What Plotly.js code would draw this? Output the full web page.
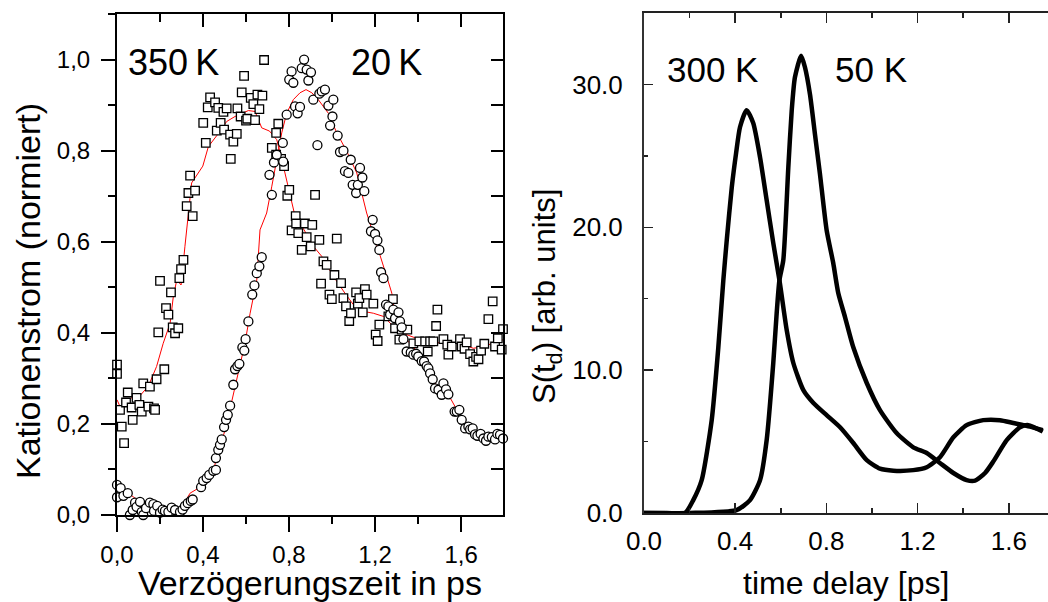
<!DOCTYPE html>
<html>
<head>
<meta charset="utf-8">
<script src="https://cdn.plot.ly/plotly-3.0.1.min.js"></script>
<style>html,body{margin:0;padding:0;background:#fff;}#chart{width:1048px;height:602px;}</style>
</head>
<body>
<div id="chart"></div>
<script>
// ---- Left panel: Kationenstrom (normiert) vs Verzögerungszeit ----
const sq350_x = [0.0,0.0,0.014,0.022,0.033,0.042,0.05,0.068,0.073,0.091,0.104,0.115,0.122,0.146,0.153,0.172,0.177,0.184,0.192,0.2,0.22,0.228,0.239,0.251,0.259,0.27,0.285,0.29,0.298,0.309,0.324,0.332,0.34,0.352,0.363,0.401,0.413,0.422,0.433,0.456,0.464,0.471,0.482,0.495,0.498,0.51,0.526,0.529,0.541,0.557,0.56,0.575,0.58,0.591,0.6,0.606,0.622,0.634,0.642,0.653,0.662,0.676,0.684,0.72,0.74,0.74,0.75,0.763,0.777,0.792,0.801,0.812,0.831,0.833,0.843,0.859,0.874,0.882,0.901,0.908,0.921,0.941,0.949,0.96,0.975,0.988,0.999,1.011,1.022,1.042,1.053,1.065,1.08,1.088,1.112,1.12,1.127,1.143,1.153,1.161,1.192,1.203,1.212,1.22,1.262,1.283,1.293,1.313,1.324,1.35,1.378,1.406,1.433,1.445,1.456,1.471,1.484,1.49,1.518,1.536,1.541,1.557,1.595,1.603,1.616,1.626,1.642,1.657,1.67,1.681,1.693,1.708,1.727,1.747,1.758,1.771,1.789,1.795];
const sq350_y = [0.33,0.31,0.231,0.194,0.158,0.247,0.269,0.236,0.209,0.257,0.242,0.227,0.289,0.238,0.282,0.234,0.231,0.298,0.401,0.514,0.32,0.454,0.44,0.489,0.412,0.399,0.41,0.52,0.54,0.56,0.678,0.707,0.745,0.656,0.712,0.861,0.817,0.895,0.917,0.906,0.844,0.894,0.861,0.885,0.846,0.893,0.835,0.782,0.82,0.837,0.893,0.875,0.928,0.964,0.866,0.87,0.916,0.902,0.867,0.923,0.891,0.921,0.999,0.806,0.839,0.791,0.859,0.782,0.766,0.701,0.714,0.625,0.656,0.64,0.619,0.582,0.64,0.61,0.59,0.637,0.703,0.604,0.508,0.557,0.549,0.484,0.474,0.527,0.607,0.509,0.476,0.458,0.426,0.443,0.489,0.464,0.476,0.445,0.496,0.484,0.464,0.396,0.382,0.418,0.436,0.474,0.41,0.385,0.407,0.407,0.377,0.381,0.381,0.359,0.381,0.381,0.415,0.451,0.386,0.374,0.352,0.37,0.386,0.37,0.365,0.379,0.353,0.337,0.347,0.342,0.361,0.376,0.43,0.469,0.37,0.388,0.363,0.408];

const ci20_x = [0.0,0.0,0.017,0.03,0.05,0.06,0.073,0.084,0.091,0.107,0.115,0.122,0.135,0.153,0.169,0.172,0.187,0.2,0.212,0.223,0.239,0.254,0.27,0.293,0.305,0.316,0.329,0.343,0.352,0.391,0.401,0.417,0.429,0.448,0.46,0.46,0.471,0.479,0.487,0.498,0.507,0.515,0.526,0.541,0.549,0.56,0.569,0.583,0.592,0.598,0.611,0.629,0.639,0.65,0.662,0.673,0.709,0.72,0.73,0.743,0.771,0.773,0.789,0.801,0.812,0.82,0.828,0.84,0.851,0.859,0.87,0.882,0.89,0.902,0.913,0.932,0.941,0.952,0.967,0.983,0.991,1.002,1.006,1.026,1.037,1.053,1.06,1.076,1.087,1.096,1.112,1.12,1.13,1.141,1.15,1.181,1.189,1.2,1.211,1.22,1.228,1.239,1.251,1.262,1.27,1.285,1.293,1.309,1.316,1.324,1.332,1.347,1.366,1.378,1.391,1.401,1.417,1.428,1.44,1.448,1.456,1.468,1.479,1.495,1.51,1.518,1.53,1.541,1.57,1.58,1.592,1.603,1.619,1.634,1.642,1.654,1.665,1.676,1.691,1.704,1.716,1.727,1.743,1.758,1.769,1.781,1.795];
const ci20_y = [0.066,0.039,0.059,0.042,0.048,0.0,0.011,0.027,0.018,0.029,0.007,0.0,0.015,0.027,0.024,0.009,0.02,0.005,0.012,0.009,0.007,0.016,0.011,0.007,0.012,0.02,0.026,0.031,0.034,0.061,0.075,0.081,0.088,0.097,0.099,0.125,0.143,0.154,0.166,0.193,0.209,0.22,0.24,0.286,0.32,0.327,0.332,0.368,0.361,0.386,0.425,0.484,0.504,0.531,0.546,0.566,0.747,0.703,0.774,0.791,0.817,0.776,0.879,0.956,0.974,0.949,0.897,0.882,0.896,0.981,1.0,0.978,0.954,0.972,0.912,0.812,0.925,0.93,0.934,0.899,0.855,0.875,0.912,0.833,0.797,0.8,0.755,0.751,0.78,0.725,0.707,0.725,0.762,0.741,0.711,0.623,0.648,0.617,0.603,0.582,0.533,0.52,0.462,0.458,0.44,0.451,0.432,0.445,0.425,0.412,0.386,0.359,0.357,0.352,0.354,0.348,0.338,0.337,0.327,0.322,0.311,0.298,0.278,0.275,0.264,0.289,0.276,0.265,0.227,0.227,0.231,0.209,0.19,0.194,0.188,0.19,0.177,0.174,0.178,0.168,0.163,0.172,0.171,0.166,0.178,0.176,0.168];

const fit350_x = [0.0,0.02,0.05,0.08,0.107,0.146,0.184,0.215,0.247,0.262,0.278,0.298,0.316,0.347,0.399,0.425,0.464,0.51,0.549,0.611,0.642,0.673,0.709,0.743,0.781,0.801,0.828,0.87,0.913,0.952,1.006,1.06,1.099,1.146,1.192,1.239,1.286,1.347,1.409,1.471,1.533,1.595,1.657,1.704,1.75,1.797];
const fit350_y = [0.253,0.232,0.25,0.262,0.262,0.283,0.326,0.377,0.421,0.48,0.516,0.505,0.59,0.729,0.766,0.809,0.833,0.864,0.875,0.888,0.886,0.85,0.843,0.824,0.751,0.711,0.656,0.626,0.59,0.568,0.524,0.487,0.462,0.447,0.443,0.436,0.414,0.396,0.385,0.381,0.374,0.377,0.366,0.37,0.377,0.385];

const fit20_x = [0.0,0.05,0.107,0.169,0.231,0.293,0.34,0.39,0.448,0.507,0.557,0.595,0.619,0.65,0.665,0.696,0.72,0.743,0.766,0.789,0.82,0.851,0.879,0.906,0.936,0.983,1.022,1.068,1.115,1.161,1.208,1.254,1.278,1.301,1.347,1.409,1.456,1.487,1.533,1.572,1.626,1.688,1.75,1.797];
const fit20_y = [0.066,0.048,0.029,0.012,0.007,0.011,0.048,0.062,0.099,0.194,0.297,0.377,0.443,0.516,0.626,0.663,0.722,0.78,0.839,0.882,0.912,0.927,0.934,0.927,0.912,0.882,0.839,0.799,0.751,0.663,0.59,0.524,0.487,0.414,0.385,0.352,0.315,0.282,0.271,0.238,0.201,0.18,0.172,0.172];

const leftXTickVals = [0, 0.4, 0.8, 1.2, 1.6];
const leftXTickText = ['0,0', '0,4', '0,8', '1,2', '1,6'];
const leftYTickVals = [0, 0.2, 0.4, 0.6, 0.8, 1.0];
const leftYTickText = ['0,0', '0,2', '0,4', '0,6', '0,8', '1,0'];

// ---- Right panel: S(t_d) vs time delay ----
const s300_x = [0.0,0.1,0.18,0.216,0.253,0.297,0.326,0.348,0.363,0.385,0.404,0.421,0.45,0.479,0.509,0.538,0.567,0.596,0.626,0.655,0.699,0.743,0.801,0.86,0.918,0.977,1.035,1.094,1.181,1.24,1.298,1.357,1.415,1.488,1.561,1.62,1.693,1.749];
const s300_y = [0.0,0.0,0.0,0.9,2.3,6.5,11.6,16.3,19.1,22.8,25.2,27.0,28.2,27.3,24.9,21.9,18.9,16.1,12.8,10.5,8.6,7.7,6.85,6.0,4.9,3.7,3.1,2.96,3.0,3.2,3.9,5.3,6.15,6.5,6.5,6.3,6.05,5.8];
const s50_x = [0.0,0.2,0.406,0.465,0.509,0.538,0.567,0.582,0.594,0.611,0.633,0.648,0.662,0.689,0.706,0.728,0.75,0.772,0.801,0.83,0.852,0.882,0.918,0.977,1.035,1.108,1.181,1.24,1.298,1.357,1.415,1.452,1.496,1.532,1.591,1.649,1.686,1.749];
const s50_y = [0.0,0.0,0.2,0.9,2.3,5.1,10.5,14.0,16.3,17.7,24.2,28.2,30.5,32.0,31.2,29.3,26.5,23.7,19.8,17.5,15.4,13.7,11.6,9.1,7.2,5.6,4.6,4.2,3.5,2.8,2.3,2.26,2.8,3.6,5.1,6.0,6.15,5.7];

const FONT = 'Liberation Sans, Arial, Helvetica, sans-serif';
const W = 1048, H = 602;
const px = v => v / W;
const py = v => (H - v) / H;

const markerLine = {color: '#000', width: 1.3};
const traces = [
  {x: fit350_x, y: fit350_y, mode: 'lines', line: {color: '#ff0000', width: 1}, xaxis: 'x', yaxis: 'y', cliponaxis: false, hoverinfo: 'skip'},
  {x: fit20_x, y: fit20_y, mode: 'lines', line: {color: '#ff0000', width: 1}, xaxis: 'x', yaxis: 'y', cliponaxis: false, hoverinfo: 'skip'},
  {x: sq350_x, y: sq350_y, mode: 'markers', marker: {symbol: 'square', size: 8.5, color: '#fff', line: markerLine}, xaxis: 'x', yaxis: 'y', cliponaxis: false},
  {x: ci20_x, y: ci20_y, mode: 'markers', marker: {symbol: 'circle', size: 9, color: '#fff', line: markerLine}, xaxis: 'x', yaxis: 'y', cliponaxis: false},
  {x: [], y: [], mode: 'markers', xaxis: 'x3', yaxis: 'y3', showlegend: false},
  {x: s300_x, y: s300_y, mode: 'lines', line: {color: '#000', width: 4.5, shape: 'spline', smoothing: 0.6}, xaxis: 'x2', yaxis: 'y2'},
  {x: s50_x, y: s50_y, mode: 'lines', line: {color: '#000', width: 4.5, shape: 'spline', smoothing: 0.6}, xaxis: 'x2', yaxis: 'y2'}
];

const tickFontL = {family: FONT, size: 24, color: '#000'};
const tickFontR = {family: FONT, size: 26, color: '#000'};

const layout = {
  width: W, height: H,
  margin: {l: 0, r: 0, t: 0, b: 0},
  paper_bgcolor: '#fff', plot_bgcolor: 'rgba(0,0,0,0)',
  showlegend: false,
  font: {family: FONT, color: '#000'},
  xaxis: {
    domain: [px(117), px(503)], anchor: 'y', range: [0, 1.795],
    tickmode: 'array', tickvals: leftXTickVals, ticktext: leftXTickText,
    ticks: 'outside', ticklen: 15, tickwidth: 2, tickcolor: '#000',
    minor: {tickmode: 'linear', tick0: 0, dtick: 0.2, ticks: 'outside', ticklen: 7, tickwidth: 2, tickcolor: '#000'},
    showline: true, linecolor: '#000', linewidth: 2, mirror: false,
    showgrid: false, zeroline: false, tickfont: tickFontL, ticklabelstandoff: 2
  },
  xaxis3: {
    overlaying: 'x', side: 'top', anchor: 'y', range: [0, 1.795],
    tickmode: 'linear', tick0: 0, dtick: 0.4,
    ticks: 'inside', ticklen: 13, tickwidth: 2, tickcolor: '#000',
    minor: {tickmode: 'linear', tick0: 0, dtick: 0.2, ticks: 'inside', ticklen: 8, tickwidth: 2, tickcolor: '#000'},
    showline: true, linecolor: '#000', linewidth: 2,
    showticklabels: false, showgrid: false, zeroline: false
  },
  yaxis: {
    domain: [py(515), py(14)], anchor: 'x', range: [0, 1.1],
    tickmode: 'array', tickvals: leftYTickVals, ticktext: leftYTickText,
    ticks: 'outside', ticklen: 14, tickwidth: 2, tickcolor: '#000',
    minor: {tickmode: 'linear', tick0: 0, dtick: 0.1, ticks: 'outside', ticklen: 7, tickwidth: 2, tickcolor: '#000'},
    showline: true, linecolor: '#000', linewidth: 2, mirror: false,
    showgrid: false, zeroline: false, tickfont: tickFontL, ticklabelstandoff: 6
  },
  yaxis3: {
    overlaying: 'y', side: 'right', anchor: 'x3', range: [0, 1.1],
    tickmode: 'linear', tick0: 0, dtick: 0.1,
    ticks: 'inside', ticklen: 12, tickwidth: 2, tickcolor: '#000',
    showline: true, linecolor: '#000', linewidth: 2,
    showticklabels: false, showgrid: false, zeroline: false
  },
  xaxis2: {
    domain: [px(644), 1], anchor: 'y2', range: [0, 1.772],
    tickmode: 'linear', tick0: 0, dtick: 0.4, tickformat: '.1f',
    ticks: 'inside', ticklen: 10, tickwidth: 1.5, tickcolor: '#222',
    minor: {tickmode: 'linear', tick0: 0, dtick: 0.2, ticks: 'inside', ticklen: 5, tickwidth: 1.5, tickcolor: '#222'},
    showline: true, linecolor: '#222', linewidth: 2, mirror: 'ticks',
    showgrid: false, zeroline: false, tickfont: tickFontR, ticklabelstandoff: 4
  },
  yaxis2: {
    domain: [py(513), py(13)], anchor: 'x2', range: [0, 35],
    tickmode: 'linear', tick0: 0, dtick: 10, tickformat: '.1f',
    ticks: 'inside', ticklen: 9, tickwidth: 1.5, tickcolor: '#222',
    minor: {tickmode: 'linear', tick0: 0, dtick: 5, ticks: 'inside', ticklen: 4, tickwidth: 1.5, tickcolor: '#222'},
    showline: true, linecolor: '#333', linewidth: 2, mirror: false,
    showgrid: false, zeroline: false, tickfont: tickFontR, ticklabelstandoff: 14
  },
  annotations: [
    {text: 'Kationenstrom (normiert)', xref: 'paper', yref: 'paper', x: px(28), y: py(291), textangle: -90, showarrow: false, font: {family: FONT, size: 34, color: '#000'}, xanchor: 'center', yanchor: 'middle'},
    {text: 'Verzögerungszeit in ps', xref: 'paper', yref: 'paper', x: px(310), y: py(583), showarrow: false, font: {family: FONT, size: 34, color: '#000'}, xanchor: 'center', yanchor: 'middle'},
    {text: '350\u2009K', xref: 'paper', yref: 'paper', x: px(173), y: py(62), showarrow: false, font: {family: FONT, size: 36, color: '#000'}, xanchor: 'center', yanchor: 'middle'},
    {text: '20\u2009K', xref: 'paper', yref: 'paper', x: px(386), y: py(62), showarrow: false, font: {family: FONT, size: 36, color: '#000'}, xanchor: 'center', yanchor: 'middle'},
    {text: 'S(t<sub>d</sub>) [arb. units]', xref: 'paper', yref: 'paper', x: px(547), y: py(297), textangle: -90, showarrow: false, font: {family: FONT, size: 31, color: '#000'}, xanchor: 'center', yanchor: 'middle'},
    {text: 'time delay [ps]', xref: 'paper', yref: 'paper', x: px(846), y: py(583), showarrow: false, font: {family: FONT, size: 32, color: '#000'}, xanchor: 'center', yanchor: 'middle'},
    {text: '300 K', xref: 'paper', yref: 'paper', x: px(712), y: py(69), showarrow: false, font: {family: FONT, size: 35, color: '#000'}, xanchor: 'center', yanchor: 'middle'},
    {text: '50 K', xref: 'paper', yref: 'paper', x: px(871), y: py(69), showarrow: false, font: {family: FONT, size: 35, color: '#000'}, xanchor: 'center', yanchor: 'middle'}
  ]
};

Plotly.newPlot('chart', traces, layout, {staticPlot: true, displayModeBar: false});
</script>
</body>
</html>
